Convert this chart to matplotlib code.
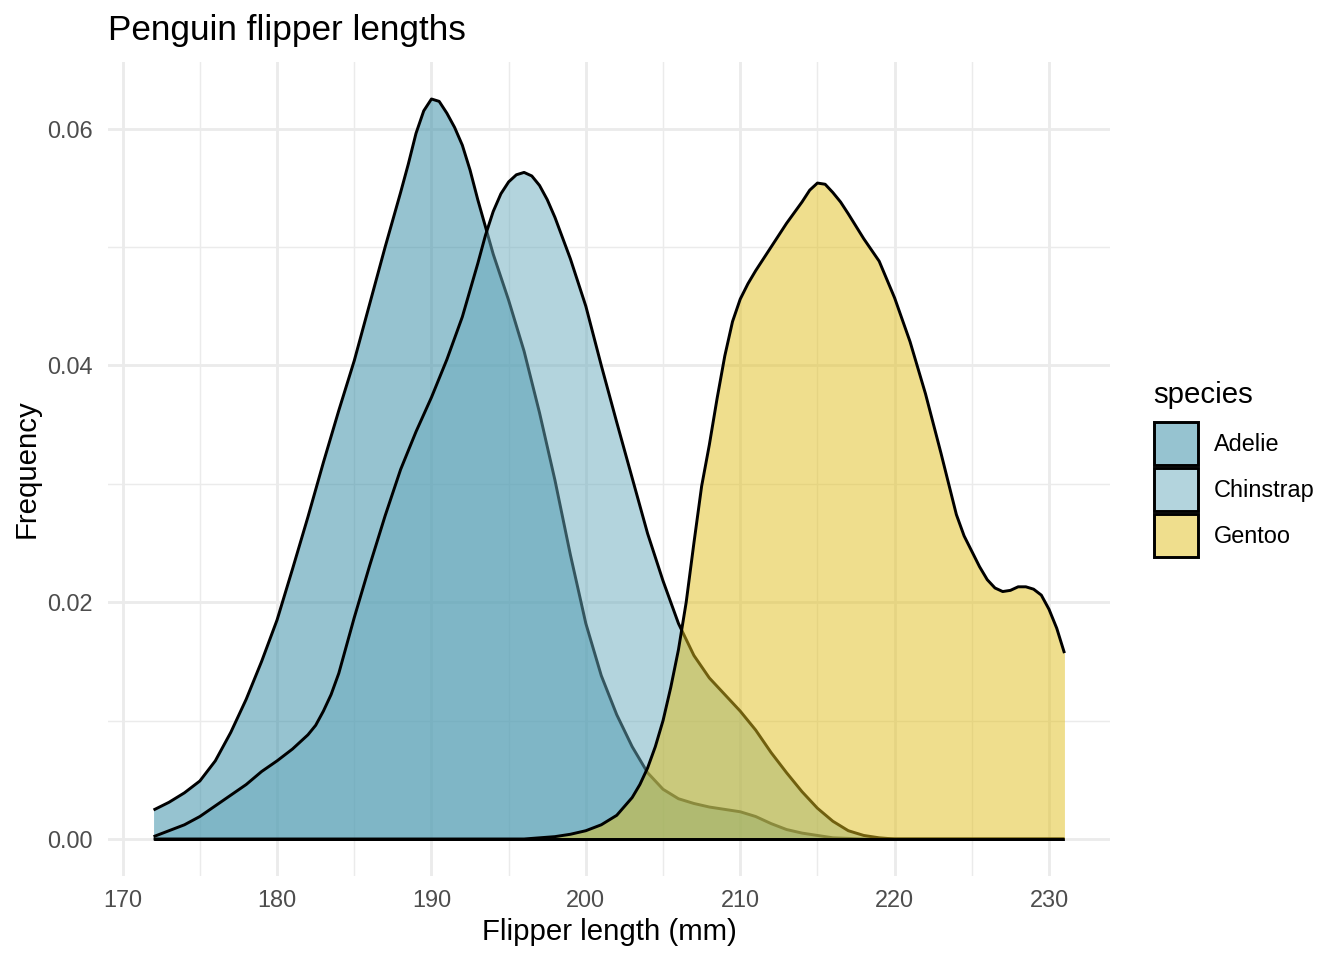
import matplotlib
matplotlib.use("Agg")
import matplotlib.pyplot as plt
from matplotlib.patches import Patch

plt.rcParams['font.family'] = ['Liberation Sans', 'DejaVu Sans']

# density curves
adelie_x = [172, 173, 174, 175, 176, 177, 178, 179, 180, 181, 182, 183, 184, 185,
            186, 187, 188, 188.5, 189, 189.5, 190, 190.5, 191, 191.5, 192, 192.5,
            193, 194, 195, 196, 197, 198, 199, 200, 201, 202, 203, 204, 205, 206,
            207, 208, 209, 210, 211, 212, 213, 214, 215, 216, 218, 231]
adelie_y = [0.00245, 0.0031, 0.0039, 0.0049, 0.0066, 0.0090, 0.0118, 0.0150,
            0.0185, 0.0228, 0.0272, 0.0318, 0.0362, 0.0404, 0.0452, 0.0500,
            0.0546, 0.0570, 0.0596, 0.0615, 0.0625, 0.0623, 0.0613, 0.0601,
            0.0586, 0.0565, 0.0540, 0.0494, 0.0455, 0.0412, 0.0360, 0.0303,
            0.0240, 0.0182, 0.0138, 0.0105, 0.0078, 0.0056, 0.0042, 0.0034,
            0.0030, 0.0027, 0.0025, 0.0023, 0.0019, 0.0013, 0.0008, 0.0005,
            0.0003, 0.0001, 0.0, 0.0]

chinstrap_x = [172, 173, 174, 175, 176, 177, 178, 179, 180, 181, 182, 182.5, 183,
               183.5, 184, 185, 186, 187, 188, 189, 190, 191, 192, 193, 193.5,
               194, 194.5, 195, 195.5, 196, 196.5, 197, 197.5, 198, 199, 200,
               201, 202, 203, 204, 205, 206, 207, 208, 209, 210, 211, 212, 213,
               214, 215, 216, 217, 218, 219, 220, 231]
chinstrap_y = [0.0002, 0.0007, 0.0012, 0.0019, 0.0028, 0.0037, 0.0046, 0.0057,
               0.0066, 0.0076, 0.0088, 0.0096, 0.0108, 0.0122, 0.0140, 0.0187,
               0.0231, 0.0273, 0.0312, 0.0344, 0.0373, 0.0405, 0.0441, 0.0486,
               0.0510, 0.0530, 0.0545, 0.0555, 0.0561, 0.0563, 0.0560, 0.0552,
               0.0540, 0.0525, 0.0490, 0.0450, 0.0400, 0.0352, 0.0305, 0.0258,
               0.0218, 0.0182, 0.0155, 0.0136, 0.0122, 0.0108, 0.0092, 0.0073,
               0.0056, 0.0040, 0.0026, 0.0015, 0.0007, 0.0003, 0.0001, 0.0, 0.0]

gentoo_x = [172, 196, 197, 198, 199, 200, 201, 202, 203, 203.5, 204, 204.5, 205,
            205.5, 206, 206.5, 207, 207.5, 208, 208.5, 209, 209.5, 210, 210.5,
            211, 212, 213, 214, 214.5, 215, 215.5, 216, 216.5, 217, 218, 219,
            220, 221, 222, 223, 223.5, 224, 224.5, 225, 225.5, 226, 226.5, 227,
            227.5, 228, 228.5, 229, 229.5, 230, 230.5, 231]
gentoo_y = [0.0, 0.0, 0.0001, 0.0002, 0.0004, 0.0007, 0.0012, 0.0020, 0.0035,
            0.0046, 0.0060, 0.0078, 0.0100, 0.0128, 0.0160, 0.0200, 0.0250,
            0.0298, 0.0333, 0.0372, 0.0408, 0.0437, 0.0456, 0.0469, 0.0480,
            0.0500, 0.0520, 0.0538, 0.0548, 0.0554, 0.0553, 0.0546, 0.0538,
            0.0528, 0.0507, 0.0488, 0.0457, 0.0420, 0.0376, 0.0326, 0.0300,
            0.0274, 0.0256, 0.0243, 0.0230, 0.0219, 0.0212, 0.0209, 0.0210,
            0.0213, 0.0213, 0.0211, 0.0206, 0.0194, 0.0178, 0.0157]

species = ['Adelie', 'Chinstrap', 'Gentoo']
colors = ['#2F89A3', '#69ABBD', '#E1BF1D']
x_ticks = [170, 180, 190, 200, 210, 220, 230]
y_ticks = [0.00, 0.02, 0.04, 0.06]
y_ticklabels = ['0.00', '0.02', '0.04', '0.06']

W, H = 1344, 960
fig = plt.figure(figsize=(7, 5), dpi=192)
ax = fig.add_axes([108 / W, 1 - 876 / H, (1110 - 108) / W, (876 - 62) / H])

curves = [(adelie_x, adelie_y), (chinstrap_x, chinstrap_y), (gentoo_x, gentoo_y)]
z = 2
for (xs, ys), col in zip(curves, colors):
    ax.fill_between(xs, 0, ys, color=col, alpha=0.5, linewidth=0, zorder=z)
    ax.plot(xs, ys, color='black', linewidth=1.1, zorder=z + 1,
            solid_capstyle='butt', solid_joinstyle='round')
    ax.plot([xs[0], xs[-1]], [0, 0], color='black', linewidth=1.1, zorder=z + 1,
            solid_capstyle='butt')
    z += 2

ax.set_xlim(169.05, 233.95)
ax.set_ylim(-0.003125, 0.065625)
ax.set_xticks(x_ticks)
ax.set_xticks([175, 185, 195, 205, 215, 225], minor=True)
ax.set_yticks(y_ticks)
ax.set_yticklabels(y_ticklabels)
ax.set_yticks([0.01, 0.03, 0.05], minor=True)
ax.tick_params(which='both', length=0)
ax.tick_params(axis='x', pad=4.9, labelsize=8.8, labelcolor='#4D4D4D')
ax.tick_params(axis='y', pad=5.6, labelsize=8.8, labelcolor='#4D4D4D')
ax.grid(which='major', color='#EBEBEB', linewidth=1.07)
ax.grid(which='minor', color='#EBEBEB', linewidth=0.53)
ax.set_axisbelow(True)
for s in ax.spines.values():
    s.set_visible(False)

fig.text(108 / W, 1 - 40 / H, 'Penguin flipper lengths', fontsize=13.2,
         ha='left', va='baseline')
fig.text(609 / W, 1 - 932 / H, 'Flipper length (mm)', fontsize=11,
         ha='center', va='center')
fig.text(27 / W, 1 - 469 / H, 'Frequency', fontsize=11, rotation=90,
         ha='center', va='center')

# legend: title as plain text, keys below it
fig.text(1153 / W, 1 - 403 / H, 'species', fontsize=11, ha='left', va='baseline')
handles = [Patch(facecolor=matplotlib.colors.to_rgba(c, 0.5), edgecolor='black',
                 linewidth=1.1) for c in colors]
fig.legend(handles, species, loc='upper left',
           bbox_to_anchor=(1154 / W, 1 - 422 / H), frameon=False, fontsize=8.8,
           handlelength=1.87, handleheight=2.44, labelspacing=0.13,
           handletextpad=0.68, borderpad=0, borderaxespad=0)

fig.savefig('out.png', dpi=192)
